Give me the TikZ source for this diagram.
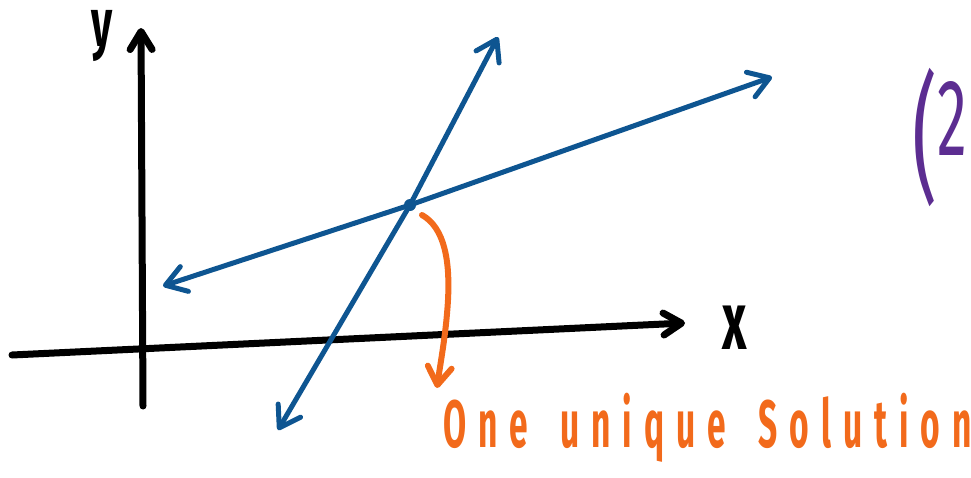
\documentclass[tikz,border=0pt]{standalone}
\usepackage{fontspec}
\setmainfont{Fira Sans}
\newfontfamily\handfont{Fira Sans}[LetterSpace=36, WordSpace=1.6]
\usetikzlibrary{positioning, arrows.meta}
\definecolor{lineblue}{HTML}{0E5591}
\definecolor{handorange}{HTML}{F26A1B}
\definecolor{handpurple}{HTML}{5C2D91}

\begin{document}
\begin{tikzpicture}[
  x=1pt, y=-1pt,
  axis/.style={line width=7pt, line cap=round, black,
    -{Straight Barb[length=18pt, width=22pt, round]}},
  solline/.style={line width=5pt, line cap=round, line join=round, lineblue,
    {Straight Barb[length=20pt, width=26pt, round]}-{Straight Barb[length=20pt, width=26pt, round]}},
  pointer/.style={line width=6pt, line cap=round, handorange,
    -{Straight Barb[length=18pt, width=24pt, round]}},
  axislabel/.style={inner sep=0pt, font=\bfseries\fontsize{68}{68}\selectfont},
  note/.style={inner sep=0pt, text=handorange, font=\handfont\bfseries\fontsize{67}{67}\selectfont},
  pointlabel/.style={inner sep=0pt, text=handpurple}
]
\useasboundingbox (0,0) rectangle (971,477);

% axes
\coordinate (xl) at (12,355);
\coordinate (xr) at (685,323);
\coordinate (yb) at (143,406);
\coordinate (yt) at (141,28);
\draw[axis] (xl) -- (xr);
\draw[axis] (yb) -- (yt);
\node[axislabel, anchor=base] (ylab) at (102,46) {\scalebox{0.6}[1]{y}};
\node[axislabel, font=\bfseries\fontsize{82}{82}\selectfont] (xlab) at (735,328) {\scalebox{0.58}[1]{x}};

% the two lines and where they meet
\node[circle, fill=lineblue, inner sep=0pt, minimum size=12pt] (p) at (410,205) {};
\coordinate (aL) at (163,286);
\coordinate (aR) at (772,77);
\coordinate (bL) at (278,430);
\coordinate (bR) at (498,37);
\draw[solline] (aL) -- (p.center) -- (aR);
\draw[solline] (bL) -- (p.center) -- (bR);

% pointer to the note
\coordinate (c0) at (422,215);
\coordinate (c1) at (437,388);
\draw[pointer] (c0) .. controls (445,228) and (450,262) .. (448,300)
  .. controls (446,335) and (440,365) .. (c1);
\node[note, anchor=base west] (sol) at (443,447) {\scalebox{0.5}[1]{One unique Solution}};

\node[pointlabel, anchor=base west] (pt) at (912,186)
  {\scalebox{0.55}[1]{\fontsize{140}{140}\selectfont(\raisebox{31pt}{\fontsize{109}{109}\selectfont 2}}};

\end{tikzpicture}
\end{document}
